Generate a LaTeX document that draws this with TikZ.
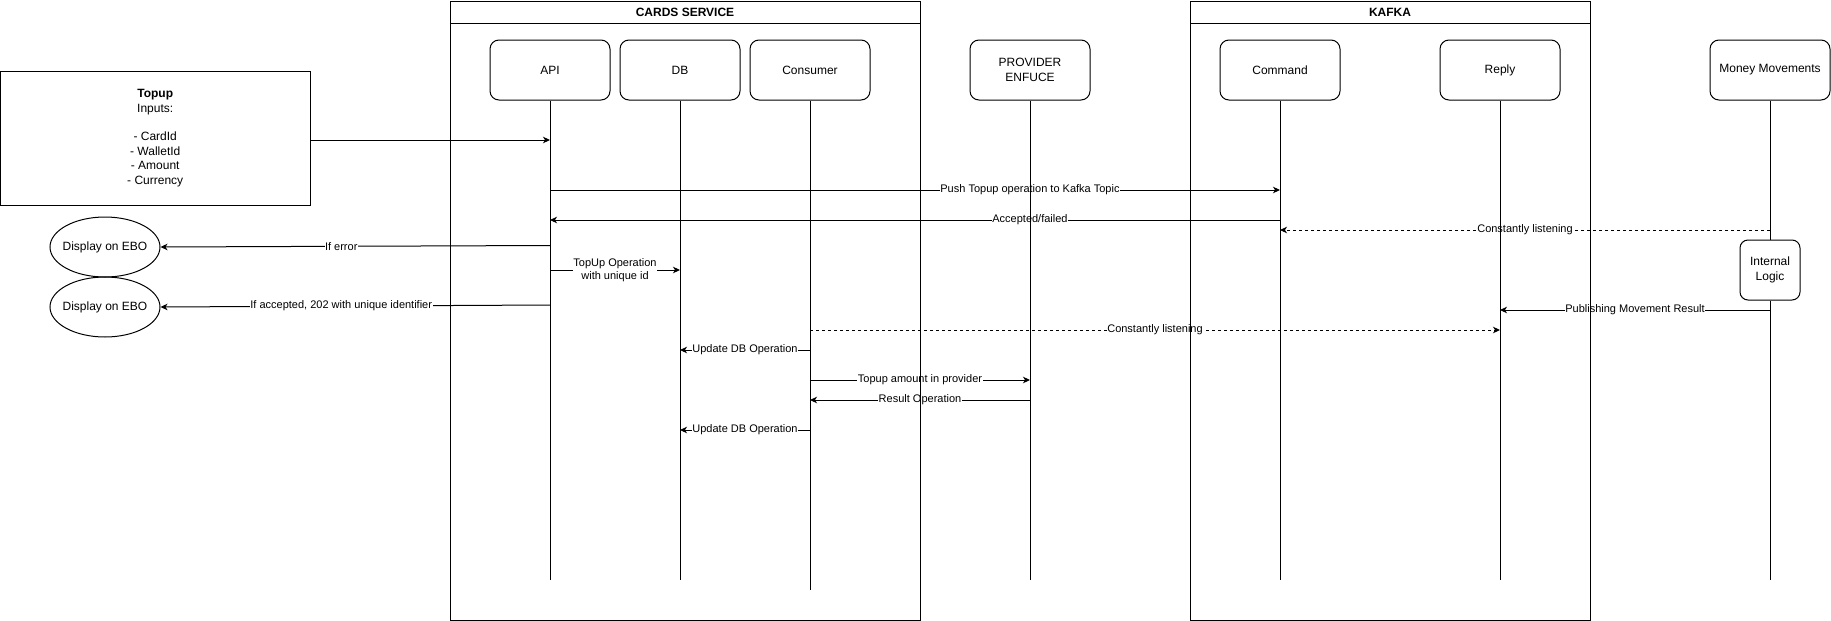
\documentclass[tikz,border=0pt]{standalone}
\usepackage{fontspec}
\setmainfont{Liberation Sans}
\usetikzlibrary{arrows.meta,shapes.geometric}
\pgfdeclarelayer{bg}
\pgfsetlayers{bg,main}
\begin{document}
\begin{tikzpicture}[x=1pt,y=-1pt,
  every node/.style={font=\fontsize{12}{14.4}\selectfont},
  frame/.style={draw, line width=1pt, minimum width=#1, minimum height=619.5pt, anchor=north west, inner sep=0pt},
  part/.style={draw, line width=1pt, rounded corners=9pt, minimum width=120pt, minimum height=60pt, align=center, fill=white},
  life/.style={line width=1pt},
  msg/.style={line width=1pt, -{Stealth[length=7pt,width=6.5pt,inset=2pt]}},
  dashmsg/.style={msg, dash pattern=on 3pt off 3pt},
  lbl/.style={fill=white, inner sep=0.5pt, font=\fontsize{11}{13}\selectfont, align=center},
  ebo/.style={draw, line width=1pt, ellipse, minimum width=110pt, minimum height=60pt, inner sep=0pt}
]
\useasboundingbox (0,0) rectangle (1831,621);

% frames
\node[frame=470pt] (cards) at (450,0.5) {};
\draw[line width=1pt] (cards.west |- 0,23) -- (cards.east |- 0,23);
\node[font=\bfseries\fontsize{12}{14.4}\selectfont] (cardsT) at (685,12) {CARDS SERVICE};
\node[frame=400pt] (kafka) at (1190,0.5) {};
\draw[line width=1pt] (kafka.west |- 0,23) -- (kafka.east |- 0,23);
\node[font=\bfseries\fontsize{12}{14.4}\selectfont] (kafkaT) at (1390,12) {KAFKA};

% participants
\node[part] (api) at (550,70) {API};
\node[part] (db) at (680,70) {DB};
\node[part] (cons) at (810,70) {Consumer};
\node[part] (prov) at (1030,70) {PROVIDER\\ENFUCE};
\node[part] (cmd) at (1280,70) {Command};
\node[part] (rep) at (1500,70) {Reply};
\node[part] (mm) at (1770,70) {Money Movements};
\node[draw, line width=1pt, rounded corners=8pt, minimum width=60pt, minimum height=60pt, align=center] (il) at (1770,270) {Internal\\Logic};

% lifeline ends
\coordinate (apiE) at (550,580);
\coordinate (dbE) at (680,580);
\coordinate (consE) at (810,590);
\coordinate (provE) at (1030,580);
\coordinate (cmdE) at (1280,580);
\coordinate (repE) at (1500,580);
\coordinate (mmE) at (1770,580);

\draw[life] (api.south) -- (apiE);
\draw[life] (db.south) -- (dbE);
\draw[life] (cons.south) -- (consE);
\draw[life] (prov.south) -- (provE);
\draw[life] (cmd.south) -- (cmdE);
\draw[life] (rep.south) -- (repE);
\draw[life] (mm.south) -- (il.north);
\draw[life] (il.south) -- (mmE);

% left side
\node[draw, line width=1pt, minimum width=309.5pt, minimum height=134pt, align=center] (topup) at (155.25,138)
  {\textbf{Topup}\\Inputs:\\[14.4pt]- CardId\\- WalletId\\- Amount\\- Currency};
\node[ebo] (ebo1) at (105,247) {\makebox[0pt]{Display on EBO}};
\node[ebo] (ebo2) at (105,307) {\makebox[0pt]{Display on EBO}};

% messages
\begin{pgfonlayer}{bg}
\draw[msg] (topup.east |- 0,140) -- (api.south |- 0,140);
\draw[msg] (api.south |- 0,190) -- node[lbl,pos=0.6575]{Push Topup operation to Kafka Topic} (cmd.south |- 0,190);
\draw[msg] (cmd.south |- 0,220) -- node[lbl,pos=0.3425]{Accepted/failed} (api.south |- 0,220);
\draw[dashmsg] (mm.south |- 0,230) -- node[lbl]{Constantly listening} (cmd.south |- 0,230);
\draw[msg] (api.south |- 0,245.5) -- node[lbl,pos=0.536]{If error} (ebo1.east);
\draw[msg] (api.south |- 0,270) -- node[lbl]{TopUp Operation\\with unique id} (db.south |- 0,270);
\draw[msg] (api.south |- 0,305) -- node[lbl,pos=0.536]{If accepted, 202 with unique identifier} (ebo2.east);
\draw[msg] (il.south |- 0,310) -- node[lbl]{Publishing Movement Result} (rep.south |- 0,310);
\draw[dashmsg] (cons.south |- 0,330) -- node[lbl]{Constantly listening} (rep.south |- 0,330);
\draw[msg] (cons.south |- 0,350) -- node[lbl]{Update DB Operation} (db.south |- 0,350);
\draw[msg] (cons.south |- 0,380) -- node[lbl]{Topup amount in provider} (prov.south |- 0,380);
\draw[msg] (prov.south |- 0,400) -- node[lbl]{Result Operation} (cons.south |- 0,400);
\draw[msg] (cons.south |- 0,430) -- node[lbl]{Update DB Operation} (db.south |- 0,430);
\end{pgfonlayer}
\end{tikzpicture}
\end{document}
